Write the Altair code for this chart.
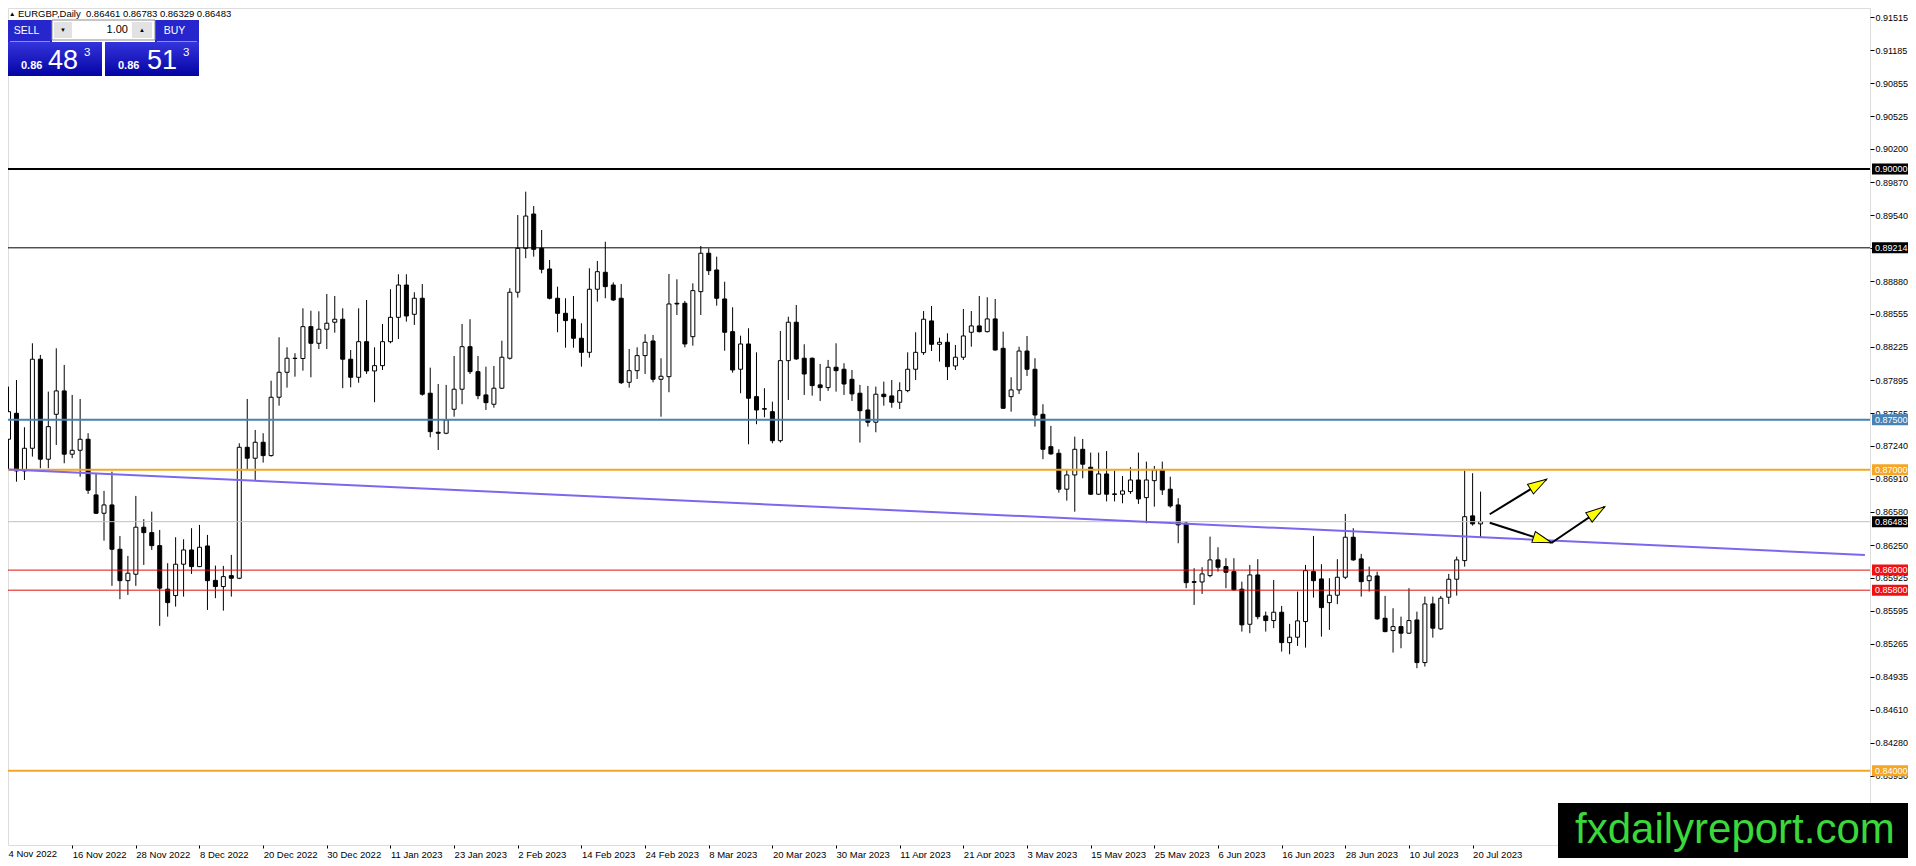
import json
import math
import altair as alt
import pandas as pd

FONT = "Liberation Sans"

# ---------------- data ----------------
OPEN = [
0.87305, 0.87564, 0.86989, 0.87215, 0.88103, 0.87106, 0.87554, 0.87787, 0.87156, 0.87195,
0.87305, 0.86750, 0.86567, 0.86650, 0.86208, 0.85895, 0.85959, 0.86428, 0.86374, 0.86244,
0.85810, 0.85746, 0.86059, 0.86201, 0.86035, 0.86241, 0.85898, 0.85836, 0.85945, 0.85919,
0.87225, 0.87116, 0.87275, 0.87142, 0.87724, 0.87973, 0.88110, 0.88110, 0.88428, 0.88262,
0.88402, 0.88472, 0.88502, 0.88103, 0.87923, 0.88278, 0.87986, 0.88039, 0.88278, 0.88521,
0.88843, 0.88551, 0.88711, 0.87764, 0.87375, 0.87365, 0.87604, 0.87804, 0.88228, 0.87979,
0.87747, 0.87654, 0.87814, 0.88113, 0.88771, 0.89209, 0.89551, 0.89209, 0.89003, 0.88711,
0.88561, 0.88502, 0.88312, 0.88172, 0.88801, 0.88970, 0.88843, 0.88711, 0.87873, 0.87989,
0.88139, 0.88285, 0.87903, 0.87929, 0.88661, 0.88661, 0.88328, 0.88777, 0.89160, 0.88993,
0.88704, 0.88378, 0.88003, 0.88255, 0.87730, 0.87610, 0.87580, 0.87291, 0.88089, 0.88472,
0.88113, 0.88113, 0.87847, 0.87820, 0.88023, 0.88003, 0.87903, 0.87764, 0.87597, 0.87475,
0.87754, 0.87737, 0.87674, 0.87790, 0.88003, 0.88169, 0.88485, 0.88252, 0.88272, 0.88036,
0.88123, 0.88372, 0.88435, 0.88378, 0.88505, 0.88212, 0.87730, 0.87797, 0.88185, 0.88003,
0.87554, 0.87231, 0.87165, 0.86807, 0.86949, 0.87205, 0.87026, 0.86757, 0.86959, 0.86760,
0.86757, 0.86783, 0.86899, 0.86723, 0.86892, 0.86999, 0.86807, 0.86650, 0.86468, 0.85885,
0.85882, 0.85945, 0.86102, 0.86035, 0.85985, 0.85810, 0.85460, 0.85952, 0.85543, 0.85497,
0.85580, 0.85277, 0.85331, 0.85487, 0.85985, 0.85912, 0.85676, 0.85750, 0.85929, 0.86328,
0.86112, 0.85895, 0.85942, 0.85520, 0.85397, 0.85437, 0.85371, 0.85503, 0.85078, 0.85663,
0.85414, 0.85730, 0.85909, 0.86095, 0.86541, 0.86461,
]
HIGH = [
0.87830, 0.87896, 0.87425, 0.88262, 0.88146, 0.87780, 0.88212, 0.88046, 0.87747, 0.87707,
0.87365, 0.86966, 0.86790, 0.86982, 0.86341, 0.86142, 0.86740, 0.86508, 0.86583, 0.86401,
0.86069, 0.86328, 0.86308, 0.86418, 0.86451, 0.86351, 0.86045, 0.86042, 0.86152, 0.87265,
0.87707, 0.87398, 0.87365, 0.87889, 0.88322, 0.88222, 0.88163, 0.88611, 0.88587, 0.88581,
0.88754, 0.88734, 0.88611, 0.88195, 0.88611, 0.88694, 0.88222, 0.88455, 0.88801, 0.88950,
0.88950, 0.88771, 0.88853, 0.88019, 0.87856, 0.87847, 0.88136, 0.88455, 0.88502, 0.88136,
0.88029, 0.88036, 0.88288, 0.88811, 0.89541, 0.89774, 0.89631, 0.89392, 0.89093, 0.88827,
0.88711, 0.88734, 0.88462, 0.89010, 0.89083, 0.89275, 0.88870, 0.88853, 0.88205, 0.88222,
0.88352, 0.88345, 0.88113, 0.88953, 0.88900, 0.88684, 0.88860, 0.89232, 0.89209, 0.89126,
0.88876, 0.88621, 0.88338, 0.88412, 0.88172, 0.87814, 0.87680, 0.88385, 0.88527, 0.88644,
0.88252, 0.88120, 0.88056, 0.88096, 0.88262, 0.88063, 0.87996, 0.87847, 0.87837, 0.87830,
0.87880, 0.87896, 0.87873, 0.88172, 0.88372, 0.88584, 0.88634, 0.88318, 0.88362, 0.88245,
0.88604, 0.88584, 0.88734, 0.88721, 0.88704, 0.88378, 0.87923, 0.88228, 0.88335, 0.88113,
0.87654, 0.87438, 0.87205, 0.86999, 0.87331, 0.87308, 0.87172, 0.87172, 0.87188, 0.86992,
0.86939, 0.87026, 0.87172, 0.87082, 0.87039, 0.87082, 0.86932, 0.86717, 0.86484, 0.86019,
0.86029, 0.86334, 0.86228, 0.86119, 0.86119, 0.85885, 0.86052, 0.86109, 0.85586, 0.85902,
0.85643, 0.85464, 0.85786, 0.86052, 0.86341, 0.86059, 0.85919, 0.86109, 0.86560, 0.86418,
0.86162, 0.86035, 0.85985, 0.85743, 0.85620, 0.85536, 0.85820, 0.85586, 0.85736, 0.85736,
0.85743, 0.85962, 0.86135, 0.86992, 0.86966, 0.86783,
]
LOW = [
0.86999, 0.86882, 0.86899, 0.87132, 0.87016, 0.87016, 0.87248, 0.87066, 0.87116, 0.86932,
0.86760, 0.86560, 0.86294, 0.85843, 0.85710, 0.85753, 0.85843, 0.86052, 0.86201, 0.85444,
0.85536, 0.85636, 0.85736, 0.85962, 0.86030, 0.85603, 0.85720, 0.85596, 0.85736, 0.85910,
0.87006, 0.86899, 0.87072, 0.87132, 0.87640, 0.87820, 0.87929, 0.87989, 0.87923, 0.88205,
0.88205, 0.88368, 0.87814, 0.87823, 0.87869, 0.87956, 0.87674, 0.87996, 0.88262, 0.88305,
0.88478, 0.88445, 0.87740, 0.87325, 0.87198, 0.87355, 0.87530, 0.87654, 0.87956, 0.87704,
0.87597, 0.87620, 0.87806, 0.88100, 0.88717, 0.89110, 0.89126, 0.88960, 0.88700, 0.88372,
0.88218, 0.88218, 0.88029, 0.88119, 0.88677, 0.88711, 0.88684, 0.87856, 0.87820, 0.87906,
0.87956, 0.87873, 0.87530, 0.87774, 0.88544, 0.88222, 0.88238, 0.88544, 0.88943, 0.88637,
0.88188, 0.87969, 0.87764, 0.87255, 0.87455, 0.87524, 0.87265, 0.87272, 0.87697, 0.88096,
0.87747, 0.87740, 0.87687, 0.87787, 0.87780, 0.87747, 0.87687, 0.87272, 0.87431, 0.87375,
0.87640, 0.87620, 0.87607, 0.87774, 0.87896, 0.88146, 0.88185, 0.88079, 0.87896, 0.87996,
0.88096, 0.88228, 0.88370, 0.88370, 0.88188, 0.87607, 0.87580, 0.87757, 0.87936, 0.87431,
0.87106, 0.87150, 0.86773, 0.86693, 0.86583, 0.86916, 0.86750, 0.86750, 0.86685, 0.86685,
0.86667, 0.86760, 0.86660, 0.86468, 0.86633, 0.86750, 0.86623, 0.86268, 0.85820, 0.85653,
0.85763, 0.85929, 0.85985, 0.85820, 0.85796, 0.85387, 0.85371, 0.85510, 0.85387, 0.85421,
0.85188, 0.85161, 0.85244, 0.85227, 0.85726, 0.85337, 0.85404, 0.85660, 0.85910, 0.86092,
0.85736, 0.85786, 0.85504, 0.85380, 0.85178, 0.85221, 0.85364, 0.85022, 0.85038, 0.85327,
0.85404, 0.85663, 0.85746, 0.86035, 0.86444, 0.86329,
]
CLOSE = [
0.87580, 0.86989, 0.87215, 0.88103, 0.87106, 0.87431, 0.87787, 0.87156, 0.87195, 0.87305,
0.86797, 0.86567, 0.86650, 0.86208, 0.85895, 0.85969, 0.86428, 0.86374, 0.86244, 0.85820,
0.85676, 0.86059, 0.86201, 0.86035, 0.86228, 0.85895, 0.85836, 0.85935, 0.85919, 0.87225,
0.87116, 0.87275, 0.87142, 0.87724, 0.87973, 0.88113, 0.88113, 0.88428, 0.88262, 0.88402,
0.88462, 0.88502, 0.88103, 0.87923, 0.88278, 0.87986, 0.88039, 0.88278, 0.88521, 0.88843,
0.88534, 0.88711, 0.87754, 0.87381, 0.87365, 0.87498, 0.87804, 0.88228, 0.87979, 0.87740,
0.87670, 0.87814, 0.88123, 0.88771, 0.89209, 0.89531, 0.89199, 0.89000, 0.88711, 0.88561,
0.88488, 0.88312, 0.88172, 0.88801, 0.88976, 0.88827, 0.88694, 0.87869, 0.87989, 0.88139,
0.88272, 0.87903, 0.87933, 0.88654, 0.88654, 0.88255, 0.88787, 0.89160, 0.88986, 0.88711,
0.88372, 0.87996, 0.88255, 0.87714, 0.87597, 0.87605, 0.87291, 0.88089, 0.88472, 0.88106,
0.87956, 0.87840, 0.87820, 0.88023, 0.87989, 0.87856, 0.87757, 0.87590, 0.87475, 0.87754,
0.87730, 0.87674, 0.87790, 0.88003, 0.88172, 0.88502, 0.88252, 0.88272, 0.88029, 0.88123,
0.88335, 0.88435, 0.88378, 0.88505, 0.88195, 0.87614, 0.87797, 0.88185, 0.88003, 0.87547,
0.87205, 0.87159, 0.86807, 0.86949, 0.87205, 0.87056, 0.86757, 0.86959, 0.86757, 0.86755,
0.86790, 0.86899, 0.86710, 0.86899, 0.86999, 0.86800, 0.86640, 0.86451, 0.85875, 0.85878,
0.85962, 0.86102, 0.86029, 0.85979, 0.85803, 0.85454, 0.85952, 0.85536, 0.85497, 0.85580,
0.85277, 0.85331, 0.85494, 0.85995, 0.85895, 0.85626, 0.85750, 0.85929, 0.86328, 0.86102,
0.85885, 0.85942, 0.85514, 0.85387, 0.85437, 0.85371, 0.85497, 0.85078, 0.85663, 0.85421,
0.85720, 0.85909, 0.86102, 0.86533, 0.86461, 0.86483,
]

DATE_LABELS = [
    "4 Nov 2022", "16 Nov 2022", "28 Nov 2022", "8 Dec 2022", "20 Dec 2022", "30 Dec 2022",
    "11 Jan 2023", "23 Jan 2023", "2 Feb 2023", "14 Feb 2023", "24 Feb 2023", "8 Mar 2023",
    "20 Mar 2023", "30 Mar 2023", "11 Apr 2023", "21 Apr 2023", "3 May 2023", "15 May 2023",
    "25 May 2023", "6 Jun 2023", "16 Jun 2023", "28 Jun 2023", "10 Jul 2023", "20 Jul 2023",
]
DATE_STEP = 8  # bars between date labels

Y_TICKS = [0.91515, 0.91185, 0.90855, 0.90525, 0.90200, 0.89870, 0.89540, 0.89210,
           0.88880, 0.88555, 0.88225, 0.87895, 0.87565, 0.87240, 0.86910, 0.86580,
           0.86250, 0.85925, 0.85595, 0.85265, 0.84935, 0.84610, 0.84280, 0.83950]

LEVEL_PRICES = [0.90000, 0.89214, 0.87500, 0.87000, 0.86483, 0.86000, 0.85800, 0.84000]

TREND_BARS = [0, 233.3]
TREND_PRICES = [0.87004, 0.86151]

ARROW_START_BARS = [186.15, 186.15, 193.94]
ARROW_START_PRICES = [0.86557, 0.86473, 0.86273]
ARROW_END_BARS = [193.31, 193.94, 200.6]
ARROW_END_PRICES = [0.86906, 0.86273, 0.86632]

HEADER = "EURGBP,Daily\u00a0 0.86461 0.86783 0.86329 0.86483"

# ---------------- styles / layout ----------------
LEVEL_LINE_COLORS = ["#000000", "#000000", "#4682B4", "#F5A623", "#C0C0C0", "#E01010", "#E01010", "#F5A623"]
LEVEL_LINE_WIDTHS = [2, 1, 2, 2, 1, 1, 1, 2]
LEVEL_BOX_COLORS = ["#000000", "#000000", "#4682B4", "#F5A623", "#000000", "#F01010", "#F01010", "#F5A623"]

W, H = 1862, 837
X_DOMAIN = [0.5625, 233.3125]
Y_DOMAIN = [0.832589, 0.916055]
PX_BAR = W / (X_DOMAIN[1] - X_DOMAIN[0])
PX_PRICE = H / (Y_DOMAIN[1] - Y_DOMAIN[0])

XS = alt.Scale(domain=X_DOMAIN, nice=False, zero=False)
YS = alt.Scale(domain=Y_DOMAIN, nice=False, zero=False)

candles = pd.DataFrame({"i": list(range(len(OPEN))), "open": OPEN, "high": HIGH,
                        "low": LOW, "close": CLOSE})

label_expr = json.dumps(DATE_LABELS) + "[round(datum.value/%d)]" % DATE_STEP

X_AXIS = alt.Axis(values=list(range(DATE_STEP, len(OPEN), DATE_STEP)), labelExpr=label_expr,
                  grid=False, domain=False, ticks=True, tickSize=3, tickColor="black",
                  labelColor="black", labelFont=FONT, labelFontSize=9.5, labelAlign="left",
                  labelBaseline="top", labelPadding=1, labelOverlap=False, labelFlush=False,
                  title=None, zindex=0)
Y_AXIS = alt.Axis(orient="right", values=Y_TICKS, labelExpr="format(datum.value, '.5f')",
                  grid=False, domain=False, tickSize=4, tickColor="black", labelColor="black",
                  labelFont=FONT, labelFontSize=9, labelPadding=1, labelOverlap=False,
                  labelFlush=False, title=None, zindex=0)


def X(field):
    return alt.X(field, scale=XS, axis=X_AXIS)


def Y(field):
    return alt.Y(field, scale=YS, axis=Y_AXIS)


base = alt.Chart(candles)
wicks = base.mark_rule(color="black", strokeWidth=1).encode(
    x=X("i:Q"), y=Y("low:Q"), y2="high:Q",
)
bodies = base.mark_bar(size=4, stroke="black", strokeWidth=1, opacity=1).encode(
    x=X("i:Q"), y=Y("open:Q"), y2="close:Q",
    fill=alt.condition("datum.close >= datum.open", alt.value("white"), alt.value("black")),
)

levels = pd.DataFrame({"price": LEVEL_PRICES, "lc": LEVEL_LINE_COLORS, "lw": LEVEL_LINE_WIDTHS,
                       "bc": LEVEL_BOX_COLORS,
                       "label": ["%.5f" % p for p in LEVEL_PRICES]})
level_lines = alt.Chart(levels).mark_rule().encode(
    y=Y("price:Q"),
    color=alt.Color("lc:N", scale=None),
    strokeWidth=alt.StrokeWidth("lw:Q", scale=None),
)

trend = pd.DataFrame({"x": [TREND_BARS[0]], "x2": [TREND_BARS[1]],
                      "y": [TREND_PRICES[0]], "y2": [TREND_PRICES[1]]})
trend_line = alt.Chart(trend).mark_rule(color="#7B68EE", strokeWidth=2).encode(
    x=X("x:Q"), x2="x2:Q", y=Y("y:Q"), y2="y2:Q",
)

arrows = pd.DataFrame({"x": ARROW_START_BARS, "x2": ARROW_END_BARS,
                       "y": ARROW_START_PRICES, "y2": ARROW_END_PRICES})
arrows["ang"] = [
    math.degrees(math.atan2(-(y2 - y1) * PX_PRICE, (x2 - x1) * PX_BAR)) % 360
    for x1, x2, y1, y2 in zip(ARROW_START_BARS, ARROW_END_BARS, ARROW_START_PRICES, ARROW_END_PRICES)
]
arrow_lines = alt.Chart(arrows).mark_rule(color="black", strokeWidth=2).encode(
    x=X("x:Q"), x2="x2:Q", y=Y("y:Q"), y2="y2:Q",
)
arrow_heads = alt.Chart(arrows).mark_point(
    shape="M0,0L-1,-0.3L-1,0.3Z", size=1444, filled=True, fill="#FFFF00",
    stroke="black", strokeWidth=1, opacity=1,
).encode(
    x=X("x2:Q"), y=Y("y2:Q"),
    angle=alt.Angle("ang:Q", scale=None),
)

level_boxes = alt.Chart(levels).mark_point(
    shape="M-1,-0.275L1,-0.275L1,0.275L-1,0.275Z", size=1600, filled=True,
    opacity=1, strokeWidth=0,
).encode(
    x=alt.value(W + 22),
    y=Y("price:Q"),
    fill=alt.Fill("bc:N", scale=None),
)
level_text = alt.Chart(levels).mark_text(
    align="left", baseline="middle", font=FONT, fontSize=9, color="white",
).encode(
    x=alt.value(W + 5),
    y=Y("price:Q"),
    text="label:N",
)

one = pd.DataFrame({"k": [0]})


def rect(x, x2, y, y2, **kw):
    return alt.Chart(one).mark_rect(**kw).encode(
        x=alt.value(x), x2=alt.value(x2), y=alt.value(y), y2=alt.value(y2))


def txt(s, x, y, **kw):
    opts = dict(font=FONT, fontSize=11, color="black", align="left", baseline="middle")
    opts.update(kw)
    return alt.Chart(one).mark_text(text=s, **opts).encode(x=alt.value(x), y=alt.value(y))


grad = alt.Gradient(gradient="linear",
                    stops=[alt.GradientStop(color="#3434dc", offset=0),
                           alt.GradientStop(color="#0404a4", offset=1)],
                    x1=0, x2=0, y1=0, y2=1)

panel = [
    rect(0, 44, 12, 34, color="#2626cc"),
    rect(147, 191, 12, 34, color="#2626cc"),
    rect(-6, 94, 34, 68, color=grad),
    rect(97, 191, 34, 68, color=grad),
    rect(44, 147, 12, 32, color="white", stroke="#8c8c8c", strokeWidth=1),
    rect(46, 64, 14, 30, color="#e2e2e2"),
    rect(124, 144, 14, 30, color="#e2e2e2"),
    alt.Chart(one).mark_rule(color="#8a8af2", strokeWidth=1).encode(
        x=alt.value(2), x2=alt.value(42), y=alt.value(33.5)),
    alt.Chart(one).mark_rule(color="#8a8af2", strokeWidth=1).encode(
        x=alt.value(149), x2=alt.value(189), y=alt.value(33.5)),
    txt("SELL", 18.5, 23, color="white", align="center", fontSize=10.5),
    txt("BUY", 166.5, 23, color="white", align="center", fontSize=10.5),
    txt("1.00", 120, 22, align="right", fontSize=11),
    txt("\u25BC", 55, 22, align="center", fontSize=6),
    txt("\u25B2", 134, 22, align="center", fontSize=6),
    txt("0.86", 13, 61, color="white", fontSize=11, fontWeight="bold", baseline="alphabetic"),
    txt("48", 40, 60.5, color="white", fontSize=27, baseline="alphabetic"),
    txt("3", 76, 48, color="white", fontSize=11.5, baseline="alphabetic"),
    txt("0.86", 110, 61, color="white", fontSize=11, fontWeight="bold", baseline="alphabetic"),
    txt("51", 139, 60.5, color="white", fontSize=27, baseline="alphabetic"),
    txt("3", 175, 48, color="white", fontSize=11.5, baseline="alphabetic"),
    txt("\u25B2", 1, 6, fontSize=6.5),
    txt(HEADER, 10, 6, fontSize=9.5),
    txt(DATE_LABELS[0], 0.5, 846, fontSize=9.5, baseline="middle"),
]

watermark = [
    rect(W - 312, W + 38, 795, H + 13, color="black"),
    txt("fxdailyreport.com", W - 295, 835, color="#3ad83a", fontSize=42, baseline="alphabetic"),
]

chart = alt.layer(
    wicks, bodies, level_lines, trend_line, arrow_lines, arrow_heads,
    level_boxes, level_text, *panel, *watermark,
).properties(
    width=W, height=H,
    padding={"left": 0, "top": 0, "right": 38, "bottom": 13},
    autosize=alt.AutoSizeParams(type="none"),
).configure_view(
    stroke="black", strokeWidth=1,
).configure(
    background="white", font=FONT,
)

chart.save("out.html", embed_options={"renderer": "svg", "actions": False})
